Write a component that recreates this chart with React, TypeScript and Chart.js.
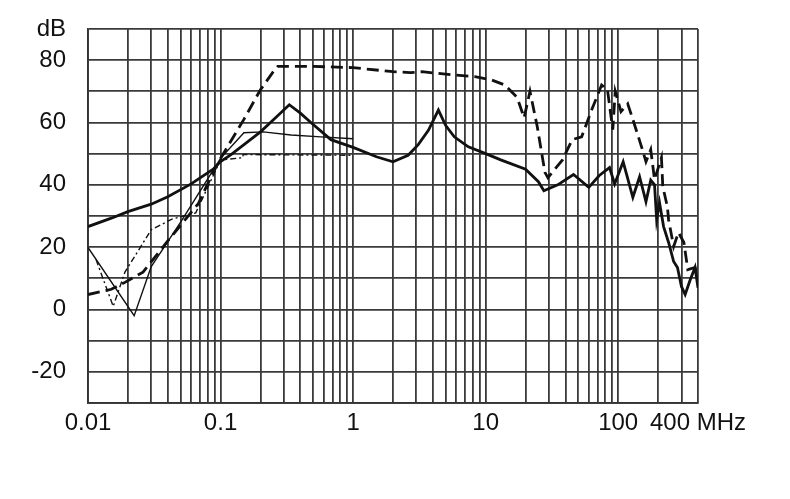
import React, { useEffect, useRef } from "react";
import { Chart, registerables } from "chart.js";

Chart.register(...registerables);

// Frequency grid (MHz) and labelled ticks
const xGridValues = [
  0.01, 0.02, 0.03, 0.04, 0.05, 0.06, 0.07, 0.08, 0.09,
  0.1, 0.2, 0.3, 0.4, 0.5, 0.6, 0.7, 0.8, 0.9,
  1, 2, 3, 4, 5, 6, 7, 8, 9,
  10, 20, 30, 40, 50, 60, 70, 80, 90,
  100, 200, 300, 400,
];
const xLabelValues = [0.01, 0.1, 1, 10, 100, 400];
const xLabelTexts = ["0.01", "0.1", "1", "10", "100", "400 MHz"];

// Level grid (dB) and labelled ticks
const yGridValues = [-30, -20, -10, 0, 10, 20, 30, 40, 50, 60, 70, 80, 90];
const yLabelValues = [90, 80, 60, 40, 20, 0, -20];
const yLabelTexts = ["dB", "80", "60", "40", "20", "0", "-20"];

// Thick solid curve
const mainFreq = [
  0.01, 0.015, 0.02, 0.03, 0.04, 0.06, 0.088, 0.1, 0.12, 0.2, 0.26, 0.33, 0.4, 0.48, 0.68,
  1.0, 1.5, 2.0, 2.6, 3.1, 3.7, 4.4, 5.0, 5.8, 7.4, 10, 13, 20, 25, 27.5, 35, 46, 60, 72,
  86, 94, 109, 129, 145, 162, 176, 188, 195, 205, 220, 240, 262, 280, 300, 320, 350, 380, 400,
];
const mainDb = [
  26.6, 29.3, 31.4, 33.8, 36.2, 40.3, 45, 47.5, 49.7, 57, 61.5, 65.7, 63, 60, 54.5,
  52, 49, 47.4, 49.5, 52.9, 57.5, 64, 59, 55.4, 52.2, 50, 48, 45, 41, 38.1, 40, 43.3, 39.2, 43,
  45.5, 40.3, 47.4, 36, 42.6, 34.6, 41.5, 40, 28.8, 34.3, 26.6, 21.5, 15.4, 13.5, 7.4, 4.8, 9.6, 13.5, 7,
];

// Thick dashed curve
const dashFreq = [
  0.01, 0.015, 0.019, 0.026, 0.04, 0.068, 0.088, 0.1, 0.15, 0.2, 0.25, 0.27, 0.5, 1, 2, 2.7,
  3.3, 5.5, 8.3, 11, 14, 17.3, 19.5, 21.6, 24.5, 28, 29.5, 38, 45, 53, 63, 75, 83, 91, 95,
  105, 118, 129, 150, 162, 176, 188, 212, 217, 235, 240, 262, 285, 313, 335, 380, 400,
];
const dashDb = [
  4.8, 6.5, 8.7, 12, 22, 34, 44, 48.5, 61, 70.5, 76.3, 78, 78, 77.6, 76.3, 76,
  76.3, 75.3, 74.7, 73.7, 72, 68, 61.5, 70, 58.7, 44, 42.3, 48, 54.5, 55.4, 64, 72, 70.5, 57.7, 70,
  63.5, 66, 61, 52.2, 47.4, 51.3, 41.7, 48.7, 39.4, 33, 28.8, 20.2, 24.7, 21.5, 12.8, 13.5, 10.6,
];

// Thin solid curve
const thinFreq = [0.01, 0.0223, 0.03, 0.05, 0.1, 0.15, 0.21, 0.34, 0.57, 1.0];
const thinDb = [19.9, -2, 13.8, 28, 48.5, 56.7, 57, 56, 55.4, 54.8];

// Thin dash-dot curve
const dotFreq = [0.0115, 0.0155, 0.019, 0.03, 0.043, 0.065, 0.1, 0.147, 0.148, 1.0];
const dotDb = [16, 1, 12, 25.6, 29, 31, 48, 48.7, 49.7, 49.5];

const toPoints = (xs: number[], ys: number[]) => xs.map((x, i) => ({ x, y: ys[i] }));

const FONT = "'Liberation Sans', Arial, sans-serif";
const GRID = { color: "#3a3a3a", lineWidth: 1.8, drawTicks: false };

export default function App() {
  const canvasRef = useRef<HTMLCanvasElement | null>(null);

  useEffect(() => {
    const canvas = canvasRef.current;
    if (!canvas) return;
    const chart = new Chart(canvas, {
      type: "line",
      data: {
        datasets: [
          {
            data: toPoints(thinFreq, thinDb),
            borderColor: "#111",
            borderWidth: 1.4,
            pointRadius: 0,
            tension: 0,
          },
          {
            data: toPoints(dotFreq, dotDb),
            borderColor: "#111",
            borderWidth: 1.4,
            borderDash: [6, 3, 2, 3],
            pointRadius: 0,
            tension: 0,
          },
          {
            data: toPoints(dashFreq, dashDb),
            borderColor: "#111",
            borderWidth: 2.8,
            borderDash: [12, 6],
            pointRadius: 0,
            tension: 0,
          },
          {
            data: toPoints(mainFreq, mainDb),
            borderColor: "#111",
            borderWidth: 2.8,
            pointRadius: 0,
            tension: 0,
          },
        ],
      },
      options: {
        animation: false,
        responsive: false,
        layout: { padding: { top: 29, right: 92, left: 0, bottom: 0 } },
        plugins: { legend: { display: false }, tooltip: { enabled: false } },
        scales: {
          x: {
            type: "logarithmic",
            min: 0.01,
            max: 400,
            afterBuildTicks: (scale: any) => {
              scale.ticks = xGridValues.map((v) => ({ value: v }));
            },
            afterFit: (scale: any) => {
              scale.height = 96;
              scale.paddingLeft = 0;
              scale.paddingRight = 0;
            },
            ticks: {
              autoSkip: false,
              maxRotation: 0,
              minRotation: 0,
              padding: 6,
              color: "#111",
              font: { family: FONT, size: 24 },
              callback: (value: any) => {
                const v = Number(value);
                const idx = xLabelValues.findIndex((l) => Math.abs(l - v) / l < 1e-6);
                return idx >= 0 ? xLabelTexts[idx] : "";
              },
            },
            grid: GRID,
            border: { color: "#333", width: 1.8 },
          },
          y: {
            min: -30,
            max: 90,
            afterBuildTicks: (scale: any) => {
              scale.ticks = yGridValues.map((v) => ({ value: v }));
            },
            afterFit: (scale: any) => {
              scale.width = 88;
              scale.paddingTop = 0;
              scale.paddingBottom = 0;
            },
            ticks: {
              autoSkip: false,
              padding: 22,
              color: "#111",
              font: { family: FONT, size: 24 },
              callback: (value: any) => {
                const v = Number(value);
                const idx = yLabelValues.indexOf(v);
                return idx >= 0 ? yLabelTexts[idx] : "";
              },
            },
            grid: GRID,
            border: { color: "#333", width: 1.8 },
          },
        },
      },
    } as any);
    return () => chart.destroy();
  }, []);

  return (
    <div style={{ position: "absolute", left: 0, top: 0, width: 790, height: 499, background: "#fff" }}>
      <canvas ref={canvasRef} width={790} height={499} />
    </div>
  );
}
